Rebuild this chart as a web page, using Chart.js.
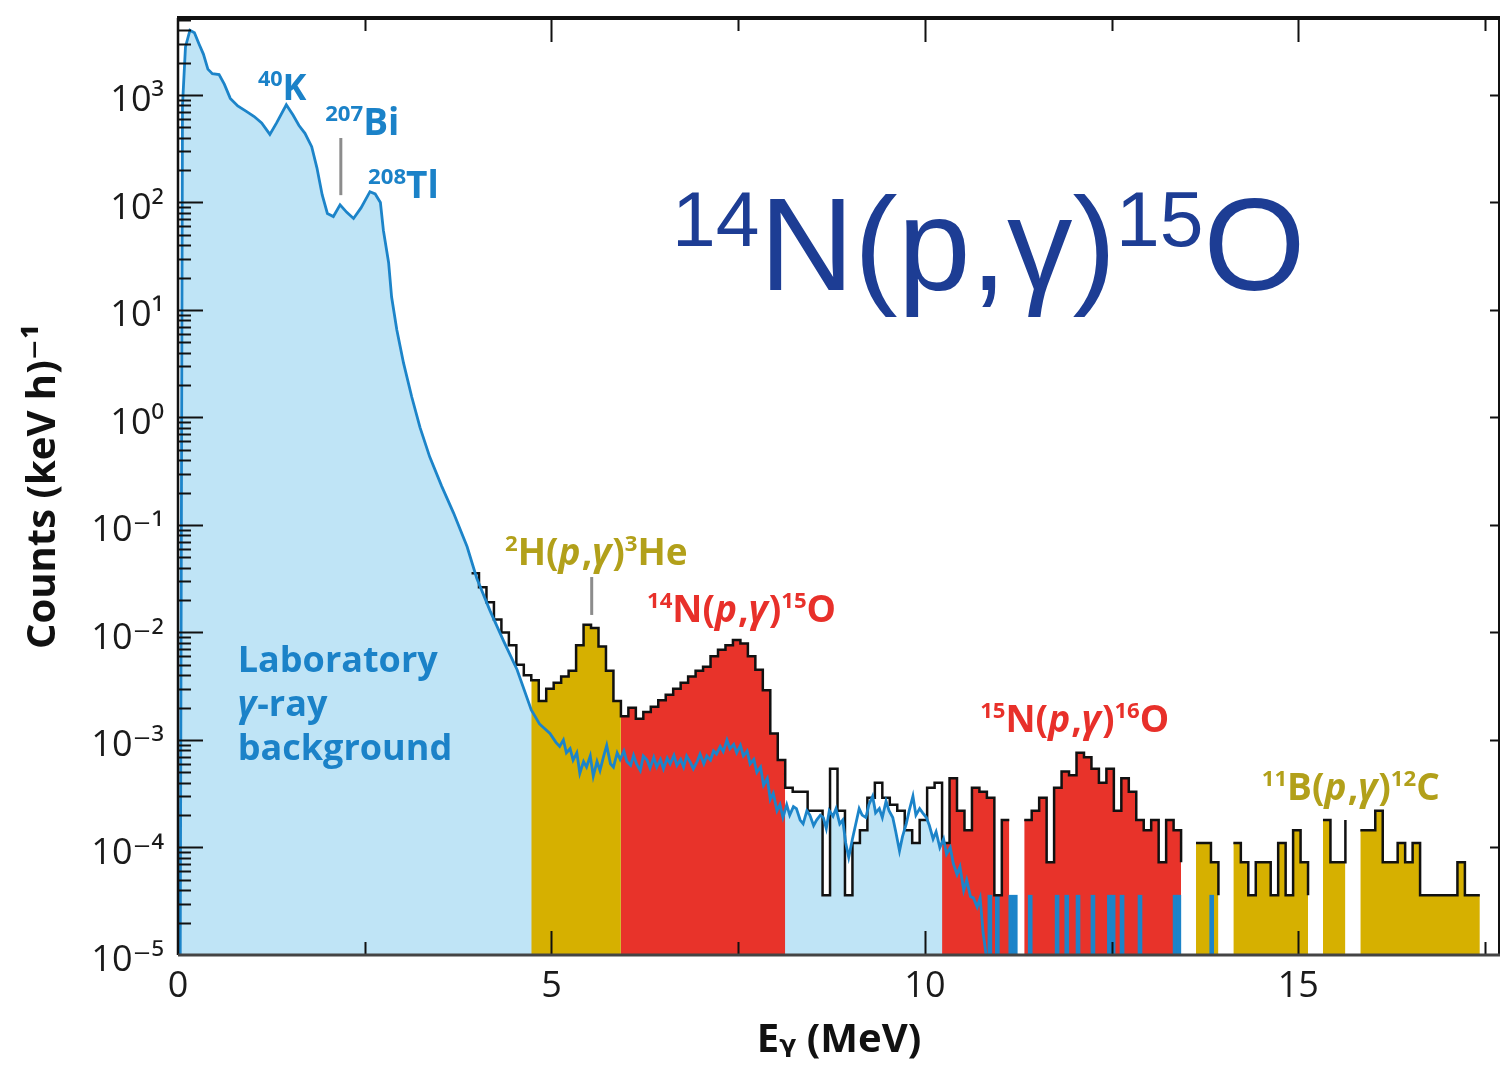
<!DOCTYPE html>
<html>
<head>
<meta charset="utf-8">
<script src="https://cdn.jsdelivr.net/npm/chart.js@4.4.0/dist/chart.umd.min.js"></script>
<style>
html,body{margin:0;padding:0;background:#ffffff;overflow:hidden}
#c{display:block}
</style>
</head>
<body>
<canvas id="c" width="1501" height="1077"></canvas>
<script>
// ---------------- DATA ----------------
// Laboratory gamma-ray background (blue line), energy in MeV, rate in counts/(keV h)
const bgEnergy = [0.03,0.06,0.10,0.16,0.22,0.28,0.34,0.40,0.46,0.55,0.62,0.70,0.80,0.92,1.02,1.12,1.23,1.32,1.45,1.54,1.62,1.70,1.79,1.86,1.93,2.00,2.08,2.17,2.26,2.35,2.45,2.57,2.64,2.71,2.75,2.82,2.86,2.93,3.02,3.13,3.24,3.37,3.53,3.69,3.87,4.00,4.18,4.36,4.54,4.73,
  4.84,4.98,5.06,5.11,5.16,5.20,5.25,5.29,5.34,5.38,5.43,5.47,5.52,5.56,5.61,5.65,5.70,5.74,5.79,5.83,5.88,5.92,5.97,6.01,6.06,6.10,6.14,6.19,6.23,6.28,6.32,6.37,6.41,6.46,6.50,6.55,6.59,6.64,6.68,6.73,6.77,6.81,6.86,6.90,6.95,6.99,7.04,7.08,7.13,7.17,7.21,7.26,7.30,7.35,7.39,7.44,7.48,7.53,7.57,7.62,7.66,7.71,7.75,7.80,7.84,7.89,7.93,7.97,8.02,8.06,8.10,
  8.15,8.19,8.24,8.28,8.33,8.37,8.42,8.46,8.51,8.55,8.60,8.64,8.68,8.72,8.77,8.81,8.86,8.90,8.94,8.98,9.03,9.07,9.12,9.16,9.21,9.25,9.30,9.34,9.39,9.43,9.48,9.52,9.57,9.61,9.66,9.70,9.75,9.79,9.84,9.88,9.93,9.97,10.02,10.06,10.11,10.15,10.20,10.25,10.29,10.34,10.38,10.43,10.47,10.52,10.56,10.61,10.65,10.70,10.74,10.78,10.82];
const bgRate = [1e-5,800,2800,4000,3800,3000,2400,1740,1580,1550,1260,930,790,700,630,550,430,550,810,650,520,440,330,210,118,79,74,95,81,71,89,126,120,100,55,27.5,13.2,6.5,3.2,1.55,0.81,0.43,0.23,0.129,0.063,0.032,0.0158,0.0083,0.0045,0.0019,
  1.41e-3,1.15e-3,9.5e-4,8.7e-4,1.0e-3,7.6e-4,8.3e-4,6.5e-4,7.6e-4,4.9e-4,6.3e-4,5.6e-4,7.1e-4,4.6e-4,6.3e-4,5.2e-4,7.1e-4,8.9e-4,6.0e-4,5.6e-4,7.6e-4,6.6e-4,7.9e-4,6.3e-4,5.8e-4,7.2e-4,6.0e-4,5.2e-4,7.1e-4,6.5e-4,5.5e-4,6.9e-4,5.6e-4,6.6e-4,5.4e-4,6.8e-4,6.0e-4,7.2e-4,5.8e-4,6.6e-4,5.6e-4,7.1e-4,6.2e-4,5.4e-4,6.3e-4,7.4e-4,6.0e-4,7.1e-4,6.5e-4,7.9e-4,7.4e-4,8.7e-4,7.8e-4,1.0e-3,8.3e-4,9.1e-4,7.6e-4,8.9e-4,7.1e-4,7.9e-4,6.0e-4,6.6e-4,5.0e-4,5.6e-4,3.8e-4,4.4e-4,2.8e-4,3.2e-4,2.2e-4,2.5e-4,1.9e-4,
  2.5e-4,2.0e-4,2.4e-4,2.3e-4,1.8e-4,1.66e-4,2.2e-4,2.0e-4,1.6e-4,1.8e-4,2.0e-4,1.9e-4,1.5e-4,2.2e-4,1.95e-4,2.3e-4,1.66e-4,1.8e-4,1.1e-4,8.1e-5,1.2e-4,1.6e-4,2.3e-4,2.0e-4,1.9e-4,2.5e-4,3.0e-4,2.1e-4,2.3e-4,1.9e-4,2.7e-4,2.2e-4,1.9e-4,1.4e-4,9.3e-5,1.26e-4,1.66e-4,2.2e-4,3.0e-4,2.0e-4,2.3e-4,2.1e-4,1.9e-4,1.6e-4,1.2e-4,1.4e-4,1.0e-4,1.2e-4,8.7e-5,1.0e-4,7.1e-5,5.6e-5,6.6e-5,4.0e-5,5.0e-5,3.5e-5,3.4e-5,2.8e-5,3.4e-5,1.6e-5,1e-5];
// isolated single-count background channels above 10.8 MeV
const bgSingleEnergy = [10.87,10.97,11.15,11.21,11.41,11.77,11.90,12.05,12.25,12.47,12.52,12.64,12.88,13.35,13.40,13.84];
const bgSingleRate   = [3.6e-5,3.6e-5,3.6e-5,3.6e-5,3.6e-5,3.6e-5,3.6e-5,3.6e-5,3.6e-5,3.6e-5,3.6e-5,3.6e-5,3.6e-5,3.6e-5,3.6e-5,3.6e-5];

// In-beam spectrum histogram (black outline), 0.1 MeV bins, split by colour region
const binWidth = 0.1;
const preStart = 3.93;  // light-blue part (follows background)
const preRate  = [0.0355,0.0263,0.0191,0.0132,0.0100,0.0076,0.0050,0.0040];
const h2Start  = 4.73;  // 2H(p,g)3He  (yellow)
const h2Rate   = [0.0036,0.0023,0.0030,0.0034,0.0039,0.0044,0.0076,0.0118,0.0110,0.0074,0.0044,0.0023];
const n14Start = 5.93;  // 14N(p,g)15O (red)
const n14Rate  = [0.00166,0.0020,0.00158,0.00182,0.00204,0.00234,0.00263,0.0030,0.0034,0.0039,0.0044,0.0048,0.0060,0.0069,0.0076,0.0085,0.0079,0.0060,0.0045,0.0029,0.00115,0.00065];
const midStart = 8.13;  // between lines (light blue)
const midRate  = [3.6e-4,3.3e-4,3.3e-4,2.2e-4,2.2e-4,3.6e-5,5.4e-4,2.2e-4,3.6e-5,1.1e-4,1.45e-4,2.9e-4,4.0e-4,2.9e-4,2.5e-4,2.2e-4,1.45e-4,1.1e-4,1.8e-4,3.6e-4,4.0e-4];
const n15Start = 10.23; // 15N(p,g)16O (red)
const n15Rate  = [1.1e-4,4.4e-4,2.2e-4,1.45e-4,3.6e-4,3.3e-4,2.9e-4,3.6e-5,1.8e-4,1.8e-4,0,1.8e-4,2.2e-4,2.9e-4,7.3e-5,3.6e-4,5.1e-4,4.7e-4,7.6e-4,6.9e-4,5.4e-4,4.0e-4,5.4e-4,2.2e-4,4.4e-4,3.3e-4,1.8e-4,1.45e-4,1.8e-4,7.3e-5,1.8e-4,1.45e-4];
const b11Start = 13.43; // 11B(p,g)12C (yellow)
const b11Rate  = [7.3e-5,0,1.1e-4,1.1e-4,7.3e-5,3.6e-5,0,1.1e-4,7.3e-5,3.6e-5,7.3e-5,7.3e-5,3.6e-5,1.1e-4,3.6e-5,1.45e-4,7.3e-5,3.6e-5,0,1.8e-4,7.3e-5,7.3e-5,1.8e-4,0,1.45e-4,1.45e-4,2.2e-4,7.3e-5,7.3e-5,1.1e-4,7.3e-5,1.1e-4,3.6e-5,3.6e-5,3.6e-5,3.6e-5,3.6e-5,7.3e-5,3.6e-5,3.6e-5];

// axes
const xMin = 0, xMax = 17.7, xStep = 2.5, xLabelEvery = 5;
const yMin = 1e-5, yMax = 5200;

// colours
const C = {
  bgFill: '#bfe4f6', bgLine: '#1c84c9', yellow: '#d6b000', red: '#e8332a',
  olive: '#b2a01a', redText: '#e8302a', blueText: '#1b82c8', navy: '#1d3d94', grey: '#8c8c8c'
};

// text annotations (anchor = left end of baseline, in data units)
const annotations = [
  {x:1.07,  y:898,     color:C.blueText, size:36, parts:[['40','s'],['K']]},
  {x:1.97,  y:425,     color:C.blueText, size:37, parts:[['207','s'],['Bi']]},
  {x:2.544, y:110,     color:C.blueText, size:37, parts:[['208','s'],['Tl']]},
  {x:0.80,  y:4.3e-3,  color:C.blueText, size:36, parts:[['Laboratory']]},
  {x:0.80,  y:1.67e-3, color:C.blueText, size:36, parts:[['γ','i'],['-ray']]},
  {x:0.80,  y:6.5e-4,  color:C.blueText, size:36, parts:[['background']]},
  {x:4.378, y:0.0425,  color:C.olive,   size:37, parts:[['2','s'],['H('],['p','i'],[','],['γ','i'],[')'],['3','s'],['He']]},
  {x:6.279, y:0.01253, color:C.redText, size:37, parts:[['14','s'],['N('],['p','i'],[','],['γ','i'],[')'],['15','s'],['O']]},
  {x:10.74, y:1.19e-3, color:C.redText, size:37, parts:[['15','s'],['N('],['p','i'],[','],['γ','i'],[')'],['16','s'],['O']]},
  {x:14.51, y:2.77e-4, color:C.olive,   size:37, parts:[['11','s'],['B('],['p','i'],[','],['γ','i'],[')'],['12','s'],['C']]},
  {x:6.614, y:15.3,    color:C.navy, size:131, supScale:0.6, supRaise:0.34, weight:'normal', family:"'Liberation Sans', Arial, sans-serif", parts:[['14','s'],['N(p,γ)'],['15','s'],['O']]}
];
const markerLines = [ {x:2.18, y0:398, y1:117}, {x:5.539, y0:0.0328, y1:0.01456} ];

// ---------------- helpers ----------------
function stepPoints(start, vals) {
  const pts = vals.map((v, i) => ({x: +(start + i * binWidth).toFixed(3), y: v}));
  pts.push({x: +(start + vals.length * binWidth).toFixed(3), y: vals[vals.length - 1]});
  return pts;
}
const allHist = preRate.concat(h2Rate, n14Rate, midRate, n15Rate, b11Rate);
const outlinePts = stepPoints(preStart, allHist);
outlinePts.push({x: outlinePts[outlinePts.length - 1].x, y: 0});

const bgPts = bgEnergy.map((e, i) => ({x: e, y: bgRate[i]}));
const singlePts = bgSingleEnergy.map((e, i) => ({x: e, y: bgSingleRate[i]}));

const SUP = {'0':'⁰','1':'¹','2':'²','3':'³','4':'⁴','5':'⁵','6':'⁶','7':'⁷','8':'⁸','9':'⁹','-':'⁻'};
const isDecade = v => { const e = Math.log10(v); return Math.abs(e - Math.round(e)) < 1e-6; };
const isIntSig = v => { const m = v / Math.pow(10, Math.floor(Math.log10(v) + 1e-9)); return Math.abs(m - Math.round(m)) < 1e-6; };

const FONT = "'Open Sans', 'DejaVu Sans', sans-serif";
Chart.defaults.font.family = FONT;

function drawRich(ctx, x, y, a) {
  const size = a.size, weight = a.weight || 'bold', fam = a.family || FONT;
  const ss = a.supScale || 0.6, sr = a.supRaise || 0.38;
  let cx = x;
  ctx.fillStyle = a.color;
  ctx.textBaseline = 'alphabetic';
  ctx.textAlign = 'left';
  for (const [t, f] of a.parts) {
    const sup = f === 's', it = f === 'i';
    const s = sup ? size * ss : size;
    ctx.font = (it ? 'italic ' : '') + weight + ' ' + s + 'px ' + fam;
    ctx.fillText(t, cx, y - (sup ? size * sr : 0));
    cx += ctx.measureText(t).width + (it ? size * 0.03 : 0);
  }
}

const decor = {
  id: 'decor',
  afterDatasetsDraw(chart) {
    const {ctx, chartArea: a, scales: {x, y}} = chart;
    ctx.save();
    // marker lines
    ctx.strokeStyle = C.grey; ctx.lineWidth = 3;
    markerLines.forEach(m => {
      const px = x.getPixelForValue(m.x);
      ctx.beginPath(); ctx.moveTo(px, y.getPixelForValue(m.y0)); ctx.lineTo(px, y.getPixelForValue(m.y1)); ctx.stroke();
    });
    // tick marks (inward)
    ctx.strokeStyle = '#111'; ctx.lineWidth = 2;
    ctx.beginPath();
    x.ticks.forEach(t => {
      const v = t.value;
      if (v <= xMin || v >= xMax) return;
      const px = Math.round(x.getPixelForValue(v)) + 0.5;
      const len = Math.abs(v / xLabelEvery - Math.round(v / xLabelEvery)) < 1e-6 ? 24 : 13;
      ctx.moveTo(px, a.bottom); ctx.lineTo(px, a.bottom - len);
      ctx.moveTo(px, a.top); ctx.lineTo(px, a.top + len);
    });
    y.ticks.forEach(t => {
      const v = t.value;
      if (v <= yMin || v > yMax || !isIntSig(v)) return;
      const py = Math.round(y.getPixelForValue(v)) + 0.5;
      const dec = isDecade(v);
      ctx.moveTo(a.left, py); ctx.lineTo(a.left + (dec ? 25 : 13), py);
      if (dec) { ctx.moveTo(a.right, py); ctx.lineTo(a.right - 10, py); }
    });
    ctx.stroke();
    // frame
    ctx.strokeStyle = '#111';
    ctx.lineWidth = 4; ctx.beginPath(); ctx.moveTo(a.left - 1, a.top); ctx.lineTo(a.right, a.top); ctx.stroke();
    ctx.lineWidth = 2.5; ctx.beginPath(); ctx.moveTo(a.left, a.top); ctx.lineTo(a.left, a.bottom); ctx.stroke();
    ctx.lineWidth = 2; ctx.beginPath(); ctx.moveTo(a.right - 1, a.top); ctx.lineTo(a.right - 1, a.bottom); ctx.stroke();
    ctx.strokeStyle = '#444'; ctx.lineWidth = 3; ctx.beginPath(); ctx.moveTo(a.left, a.bottom); ctx.lineTo(a.right, a.bottom); ctx.stroke();
    // labels
    annotations.forEach(an => drawRich(ctx, x.getPixelForValue(an.x), y.getPixelForValue(an.y), an));
    ctx.restore();
  }
};

new Chart(document.getElementById('c'), {
  type: 'line',
  data: {
    datasets: [
      {label: 'background', data: bgPts, borderColor: C.bgLine, borderWidth: 2.8, pointRadius: 0, fill: false, tension: 0, order: 0},
      {label: 'in-beam spectrum', data: outlinePts, stepped: true, borderColor: '#111', borderWidth: 2.5, pointRadius: 0, fill: false, order: 1},
      {type: 'bar', label: 'background single counts', data: singlePts, backgroundColor: C.bgLine, borderWidth: 0, barThickness: 4, grouped: false, order: 2},
      {label: '2H(p,g)3He', data: stepPoints(h2Start, h2Rate), stepped: true, borderWidth: 0, pointRadius: 0, backgroundColor: C.yellow, fill: 'start', order: 3},
      {label: '14N(p,g)15O', data: stepPoints(n14Start, n14Rate), stepped: true, borderWidth: 0, pointRadius: 0, backgroundColor: C.red, fill: 'start', order: 3},
      {label: '15N(p,g)16O', data: stepPoints(n15Start, n15Rate), stepped: true, borderWidth: 0, pointRadius: 0, backgroundColor: C.red, fill: 'start', order: 3},
      {label: '11B(p,g)12C', data: stepPoints(b11Start, b11Rate), stepped: true, borderWidth: 0, pointRadius: 0, backgroundColor: C.yellow, fill: 'start', order: 3},
      {label: 'mask', data: stepPoints(midStart, midRate), stepped: true, borderWidth: 0, pointRadius: 0, backgroundColor: '#ffffff', fill: 'end', order: 4},
      {label: 'background area', data: bgPts, borderWidth: 0, pointRadius: 0, backgroundColor: C.bgFill, fill: 'start', tension: 0, order: 5}
    ]
  },
  options: {
    responsive: false,
    animation: false,
    events: [],
    layout: {padding: {left: 0, right: 1, top: 18, bottom: 0}},
    plugins: {legend: {display: false}, tooltip: {enabled: false}},
    scales: {
      x: {
        type: 'linear', min: xMin, max: xMax, offset: false,
        grid: {display: false, drawTicks: false}, border: {display: false},
        ticks: {stepSize: xStep, includeBounds: false, autoSkip: false, maxRotation: 0, padding: 10, color: '#1a1a1a', font: {size: 36},
          callback: v => (Math.abs(v / xLabelEvery - Math.round(v / xLabelEvery)) < 1e-6 ? String(Math.round(v)) : '')},
        title: {display: true, text: 'Eᵧ (MeV)', color: '#111', font: {size: 40, weight: 'bold'}, padding: {top: 0, bottom: 12}},
        afterFit: s => { s.height = 122; s.paddingLeft = 0; s.paddingRight = 0; }
      },
      y: {
        type: 'logarithmic', min: yMin, max: yMax,
        grid: {display: false, drawTicks: false}, border: {display: false},
        ticks: {autoSkip: false, padding: 14, labelOffset: 6, color: '#1a1a1a', font: {size: 36},
          callback: v => isDecade(v) ? '10' + String(Math.round(Math.log10(v))).split('').map(c => SUP[c]).join('') : ''},
        title: {display: true, text: 'Counts (keV h)⁻¹', color: '#111', font: {size: 40, weight: 'bold'}, padding: {top: 20, bottom: 0}},
        afterFit: s => { s.width = 178; s.paddingTop = 0; s.paddingBottom = 0; }
      }
    }
  },
  plugins: [decor]
});
</script>
</body>
</html>
